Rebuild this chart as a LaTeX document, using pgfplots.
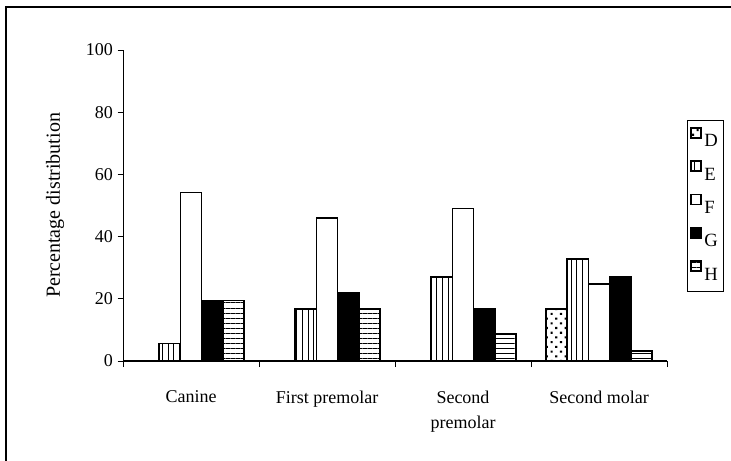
\documentclass[border=0pt]{standalone}
\usepackage{fontspec}
\setmainfont{Liberation Serif}
\usepackage{pgfplots}
\pgfplotsset{compat=1.18}
\usetikzlibrary{patterns.meta}

\begin{document}
\begin{tikzpicture}[font=\fontsize{13.5pt}{18.75pt}\selectfont]
\useasboundingbox (0,0) rectangle (548.25pt,-345pt);
\clip (0,0) rectangle (548.25pt,-345pt);
% outer frame (only top and left edges are visible)
\draw[line width=1pt] (4.5pt,-346pt) -- (4.5pt,-5.25pt) -- (549pt,-5.25pt);
\begin{axis}[
  at={(92.25pt,-270.75pt)}, anchor=south west,
  scale only axis, width=408pt, height=233.25pt,
  style={/pgf/number format/assume math mode=true},
  ybar=0pt, bar width=15.9pt,
  ymin=0, ymax=100, ytick={0,20,...,100},
  xmin=-0.5, xmax=3.5,
  xtick={0,1,2,3},
  xticklabels={Canine, First premolar, {Second\\premolar}, Second molar},
  xticklabel style={align=center, yshift=-15pt},
  major x tick style={draw=none},
  minor xtick={-0.5,0.5,1.5,2.5,3.5},
  minor tick length=4.5pt, major tick length=4pt,
  tick align=outside, tick style={black, line width=0.6pt},
  axis x line*=bottom, axis y line*=left,
  x axis line style={line width=1pt},
  y axis line style={line width=0.6pt},
  ylabel={Percentage distribution},
  ylabel style={at={(axis description cs:-0.125,0.5)}, anchor=center,
    font=\fontsize{15pt}{18pt}\selectfont},
  clip=false,
  every axis plot/.append style={draw=black, line width=1.2pt,
    legend image code/.code={\draw[##1, line width=1.3pt] (0pt,3pt) rectangle (7.5pt,10.5pt);}},
  legend style={at={(axis description cs:1.0368,0.775)}, anchor=north west,
    draw=black, line width=0.5pt, row sep=6.5pt, inner xsep=2pt, inner ysep=5pt,
    font=\fontsize{14pt}{16pt}\selectfont},
  legend cell align=left,
]
\addplot[pattern={Dots[distance=5pt, angle=45, radius=1.1pt]}]
  coordinates {(3,16.7)};
\addplot[pattern={Lines[angle=90, distance=4.2pt, line width=0.7pt]}]
  coordinates {(0,5.6) (1,16.7) (2,27.0) (3,32.8)};
\addplot[fill=white]
  coordinates {(0,54.2) (1,46.0) (2,49.0) (3,24.7)};
\addplot[fill=black]
  coordinates {(0,19.5) (1,22.0) (2,16.7) (3,27.2)};
\addplot[pattern={Lines[angle=0, distance=3.8pt, line width=0.7pt]}]
  coordinates {(0,19.5) (1,16.7) (2,8.6) (3,3.2)};
\legend{D,E,F,G,H}
\end{axis}
\end{tikzpicture}
\end{document}
